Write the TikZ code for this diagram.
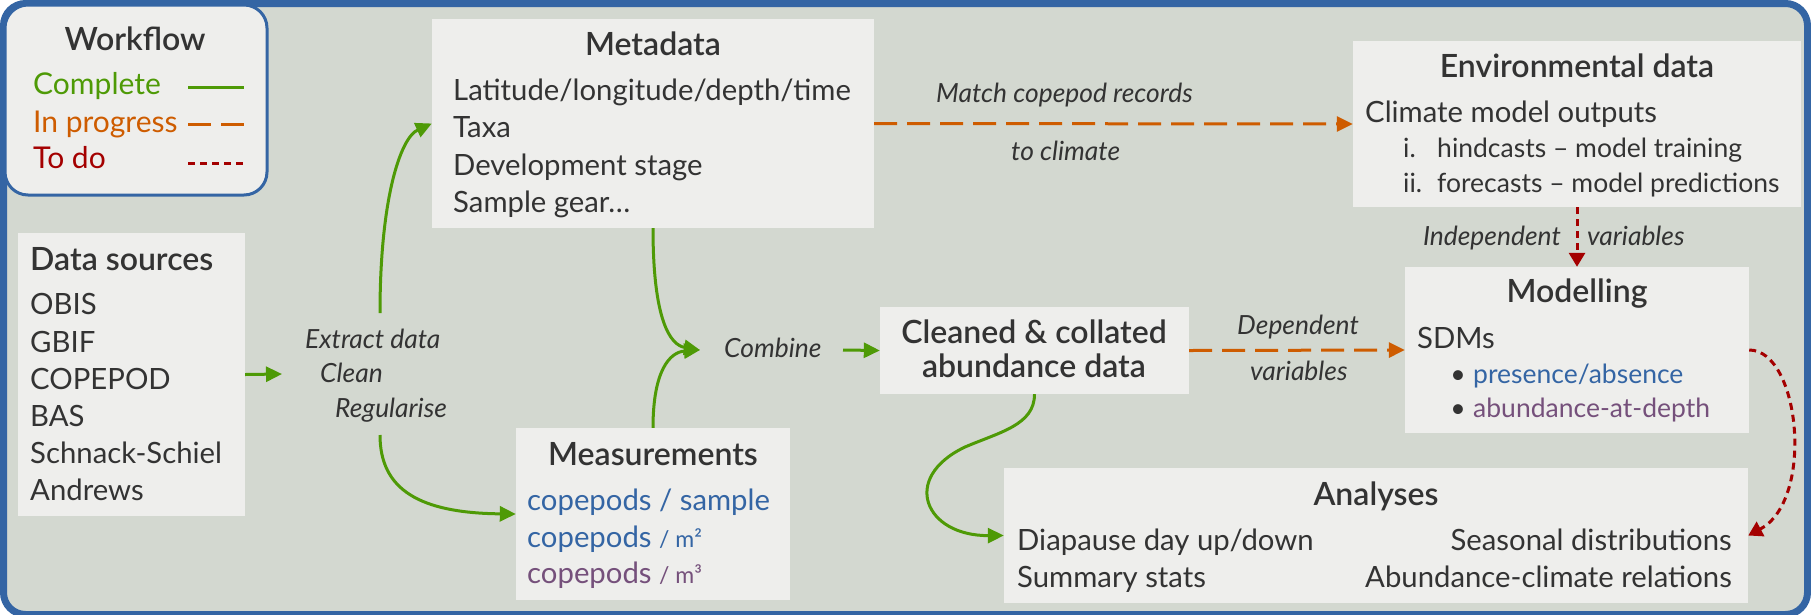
\documentclass[tikz,border=0pt]{standalone}
\usepackage{fontspec}
\setmainfont{Lato}
\IfFontExistsTF{Lato Semibold}{\newfontfamily\semib{Lato Semibold}}{\newfontfamily\semib{Lato}[FakeBold=1.2]}
\usetikzlibrary{arrows.meta}
\definecolor{frameblue}{HTML}{3465A4}
\definecolor{bgc}{HTML}{D3D8D0}
\definecolor{boxc}{HTML}{EEEEEC}
\definecolor{txt}{HTML}{333333}
\definecolor{cgreen}{HTML}{4E9A06}
\definecolor{corange}{HTML}{CE5C00}
\definecolor{cred}{HTML}{A40000}
\definecolor{cblue}{HTML}{3465A4}
\definecolor{cpurple}{HTML}{75507B}
\begin{document}
\begin{tikzpicture}[x=1pt,y=-1pt,
  body/.style={inner sep=0pt, anchor=base west, text=txt, font=\fontsize{29.3}{35}\selectfont},
  subbody/.style={inner sep=0pt, anchor=base west, text=txt, font=\fontsize{26.5}{32}\selectfont},
  ttl/.style={inner sep=0pt, anchor=base, text=txt, font=\semib\fontsize{32}{38}\selectfont},
  lab/.style={inner sep=0pt, anchor=base west, text=txt, font=\itshape\fontsize{26.4}{31}\selectfont},
  legtxt/.style={inner sep=0pt, anchor=base west, font=\fontsize{30}{36}\selectfont},
  box/.style={fill=boxc, draw=none, inner sep=0pt, rectangle},
  gline/.style={draw=cgreen, line width=3pt, -{Triangle[length=16pt,width=15pt]}},
  oline/.style={draw=corange, line width=3pt, dash pattern=on 23pt off 10pt, -{Triangle[length=16pt,width=15pt]}},
  rline/.style={draw=cred, line width=3pt, dash pattern=on 7pt off 5pt, -{Triangle[length=14pt,width=16pt]}},
  legline/.style={line width=3pt}]
\useasboundingbox (0,0) rectangle (1811,614);
% frame
\draw[frameblue, line width=7pt, fill=bgc, rounded corners=22pt] (3.5,3.5) rectangle (1807.5,614.5);

% legend
\node[fill=boxc, draw=frameblue, line width=3pt, rounded corners=23pt, minimum width=262, minimum height=190, inner sep=0pt] (leg) at (136,100) {};
\node[ttl] (legt) at (135,50) {Workflow};
\node[legtxt, text=cgreen] (legc) at (33,94) {Complete};
\node[legtxt, text=corange] (legp) at (33,132) {In progress};
\node[legtxt, text=cred] (legd) at (33,168) {To do};
\draw[legline, cgreen] (188,87) -- (244,87);
\draw[legline, corange, dash pattern=on 23pt off 10pt] (188,124) -- (244,124);
\draw[legline, cred, dash pattern=on 7pt off 5pt] (188,163) -- (244,163);

% data sources
\node[box, minimum width=227, minimum height=283] (ds) at (131.5,374.5) {};
\node[ttl, anchor=base west] (dst) at (30,270) {Data sources};
\node[body] (ds1) at (30,314) {OBIS};
\node[body] (ds2) at (30,352) {GBIF};
\node[body] (ds3) at (30,389) {COPEPOD};
\node[body] (ds4) at (30,426) {BAS};
\node[body] (ds5) at (30,463) {Schnack-Schiel};
\node[body] (ds6) at (30,500) {Andrews};

% metadata
\node[box, minimum width=442, minimum height=209] (meta) at (653,123.5) {};
\node[ttl] (metat) at (653,55) {Metadata};
\node[body] (m1) at (453,100) {Latitude/longitude/depth/time};
\node[body] (m2) at (453,137) {Taxa};
\node[body] (m3) at (453,175) {Development stage};
\node[body] (m4) at (453,212) {Sample gear…};

% measurements
\node[box, minimum width=274, minimum height=172] (meas) at (653,514) {};
\node[ttl] (meast) at (653,465) {Measurements};
\node[body, text=cblue] (ms1) at (527,510) {copepods / sample};
\node[body, text=cblue] (ms2) at (527,547) {copepods {\fontsize{23}{27}\selectfont / m²}};
\node[body, text=cpurple] (ms3) at (527,583) {copepods {\fontsize{23}{27}\selectfont / m³}};

% cleaned
\node[box, minimum width=309, minimum height=87] (cl) at (1034.5,350.5) {};
\node[ttl] (cl1) at (1034,343) {Cleaned \& collated};
\node[ttl] (cl2) at (1034,377) {abundance data};

% environmental
\node[box, minimum width=448, minimum height=166] (env) at (1577,124) {};
\node[ttl] (envt) at (1577,77) {Environmental data};
\node[body] (e1) at (1365,122) {Climate model outputs};
\node[subbody] (e2a) at (1403,157) {i.};
\node[subbody] (e2) at (1437,157) {hindcasts – model training};
\node[subbody] (e3a) at (1403,192) {ii.};
\node[subbody] (e3) at (1437,192) {forecasts – model predictions};

% modelling
\node[box, minimum width=344, minimum height=166] (model) at (1577,350) {};
\node[ttl] (modt) at (1577,302) {Modelling};
\node[body] (sd) at (1417,348) {SDMs};
\node[subbody, anchor=base] (b1) at (1458,383) {•};
\node[subbody, text=cblue] (sd1) at (1473,383) {presence/absence};
\node[subbody, anchor=base] (b2) at (1458,417) {•};
\node[subbody, text=cpurple] (sd2) at (1473,417) {abundance-at-depth};

% analyses
\node[box, minimum width=744, minimum height=135] (an) at (1376,535.5) {};
\node[ttl] (ant) at (1376,505) {Analyses};
\node[body] (a1) at (1017,550) {Diapause day up/down};
\node[body] (a2) at (1017,587) {Summary stats};
\node[body, anchor=base east] (a3) at (1732,550) {Seasonal distributions};
\node[body, anchor=base east] (a4) at (1732,587) {Abundance-climate relations};

% labels
\node[lab] (l1) at (305,348) {Extract data};
\node[lab] (l2) at (320,382) {Clean};
\node[lab] (l3) at (335,417) {Regularise};
\node[lab] (comb) at (724,357) {Combine};
\node[lab] (mt1) at (936,102) {Match copepod records};
\node[lab] (mt2) at (1011,160) {to climate};
\node[lab] (dp1) at (1237,334) {Dependent};
\node[lab] (dp2) at (1250,380) {variables};
\node[lab, anchor=base east] (in1) at (1561,245) {Independent};
\node[lab] (in2) at (1587,245) {variables};

\coordinate (extin) at (282,374);
\coordinate (extup) at (380,313);
\coordinate (extdn) at (380,435);
\coordinate (combin) at (700,350);
\coordinate (combout) at (843,350);

% connectors
\draw[gline] (ds.east) -- (extin);
\draw[gline] (extup) .. controls (380,200) and (400,138) .. (meta.west);
\draw[gline] (extdn) .. controls (380,490) and (420,513) .. (meas.west);
\draw[gline] (meta.south) .. controls (653,320) and (670,345) .. (combin);
\draw[gline] (meas.north) .. controls (653,370) and (670,352) .. (combin);
\draw[gline] (combout) -- (cl.west);
\draw[gline] (cl.south) .. controls (1034.5,425) and (1000,432) .. (965,447) .. controls (900,478) and (925,536) .. (an.west);
\draw[oline] (meta.east) -- (env.west);
\draw[oline] (cl.east) -- (model.west);
\draw[rline] (env.south) -- (model.north);
\draw[rline] (model.east) .. controls (1800,350) and (1815,500) .. (an.east);
\end{tikzpicture}
\end{document}
